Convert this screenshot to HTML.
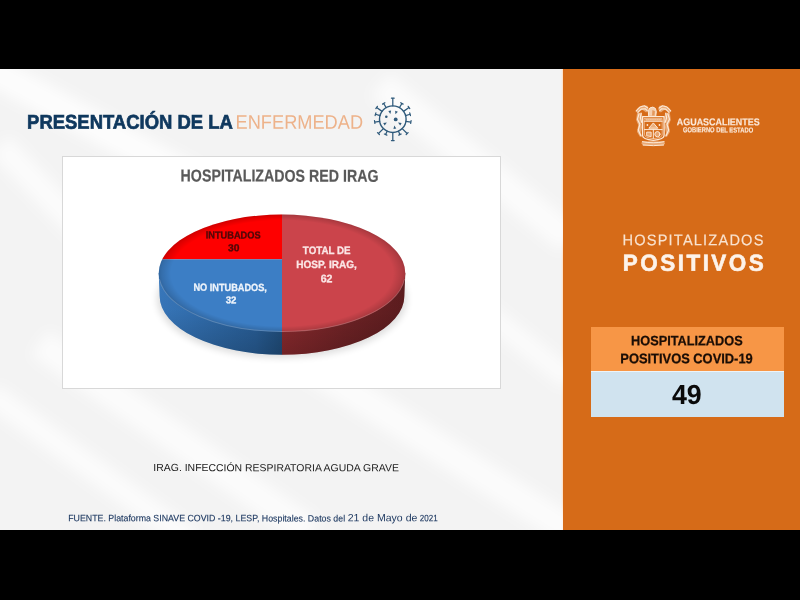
<!DOCTYPE html>
<html lang="es">
<head>
<meta charset="utf-8">
<title>Presentación de la enfermedad - Hospitalizados positivos</title>
<style>
html,body{margin:0;padding:0;background:#000;}
body{width:800px;height:600px;position:relative;overflow:hidden;font-family:"Liberation Sans",sans-serif;}
#slide{position:absolute;left:0;top:69px;width:800px;height:461px;background:#f3f3f3;overflow:hidden;}
#bg{position:absolute;left:0;top:0;width:563px;height:461px;background:#f3f3f3;}
#panel{position:absolute;left:562.7px;top:0;width:237.3px;height:461px;background:#d66b18;box-shadow:-1px 0 1px rgba(255,225,200,.9);}
#chart{position:absolute;left:62.2px;top:155.8px;width:437.3px;height:231.6px;background:#fff;border:1px solid #d8d8d8;}
.t{position:absolute;left:0;top:0;white-space:pre;transform-origin:0 0;margin:0;padding:0;}
#abs{position:absolute;left:0;top:0;width:800px;height:600px;}
#th{position:absolute;left:590.5px;top:327.3px;width:193px;height:43.4px;background:#f79646;}
#td{position:absolute;left:590.5px;top:370.7px;width:193px;height:46.6px;background:#d0e3ef;box-shadow:inset 0 1px 0 rgba(255,255,255,.6);}
svg{position:absolute;left:0;top:0;}
</style>
</head>
<body>
<div id="slide">
  <div id="bg"></div>
  <div id="panel"></div>
</div>
<div id="abs">
  <svg width="563" height="600" viewBox="0 0 563 600" style="clip-path:inset(69px 0 70px 0)"><defs><filter id="bgbl" x="-10%" y="-10%" width="120%" height="120%"><feGaussianBlur stdDeviation="7"/></filter></defs>
<g filter="url(#bgbl)" stroke="#fff" fill="none" stroke-linecap="butt">
<line x1="-20" y1="64" x2="300" y2="237" stroke-width="30" stroke-opacity="0.8"/>
<line x1="0" y1="145" x2="140" y2="292" stroke-width="26" stroke-opacity="0.7"/>
<line x1="40" y1="343" x2="310" y2="532" stroke-width="30" stroke-opacity="0.7"/>
<line x1="290" y1="353" x2="570" y2="531" stroke-width="30" stroke-opacity="0.7"/>
<line x1="-10" y1="394" x2="190" y2="540" stroke-width="24" stroke-opacity="0.7"/>
<line x1="380" y1="85" x2="570" y2="240" stroke-width="30" stroke-opacity="0.7"/>
<line x1="470" y1="300" x2="570" y2="380" stroke-width="22" stroke-opacity="0.65"/>
</g>
  </svg>
  <div id="chart"></div>
  <div id="th"></div>
  <div id="td"></div>
  <svg width="800" height="600" viewBox="0 0 800 600">
    <defs>
      <clipPath id="topc"><ellipse cx="282" cy="273.25" rx="123.3" ry="58.75"/></clipPath>
      <clipPath id="sidec"><path d="M158.7,273.25 L159.6,296.05 A122.4,58.75 0 0 0 404.4,296.05 L405.3,273.25 Z"/></clipPath>
      <linearGradient id="gb" x1="0" y1="0" x2="1" y2="0">
        <stop offset="0" stop-color="#3a7abf"/><stop offset=".3" stop-color="#3371b3"/><stop offset=".8" stop-color="#29609a"/><stop offset="1" stop-color="#21507f"/>
      </linearGradient>
      <linearGradient id="gr" x1="0" y1="0" x2="1" y2="0">
        <stop offset="0" stop-color="#8e2b2f"/><stop offset=".5" stop-color="#712326"/><stop offset="1" stop-color="#5a1c1e"/>
      </linearGradient>
      <linearGradient id="gv" x1="0" y1="0" x2="0" y2="1">
        <stop offset="0" stop-color="#000" stop-opacity="0"/><stop offset=".45" stop-color="#000" stop-opacity=".03"/><stop offset="1" stop-color="#000" stop-opacity=".2"/>
      </linearGradient>
      <radialGradient id="bev" cx=".5" cy=".5" r=".5">
        <stop offset="0" stop-color="#000" stop-opacity="0"/><stop offset=".9" stop-color="#000" stop-opacity="0"/><stop offset=".975" stop-color="#000" stop-opacity=".13"/><stop offset="1" stop-color="#000" stop-opacity=".2"/>
      </radialGradient>
      <filter id="bl" x="-20%" y="-20%" width="140%" height="140%"><feGaussianBlur stdDeviation="3.5"/></filter>
    </defs>
    <!-- shadow -->
    <ellipse cx="282" cy="299" rx="125" ry="59" fill="#000" opacity=".13" filter="url(#bl)"/>
    <!-- side -->
    <g clip-path="url(#sidec)">
      <rect x="150" y="260" width="132" height="110" fill="url(#gb)"/>
      <rect x="282" y="260" width="130" height="110" fill="url(#gr)"/>
      <rect x="150" y="273" width="262" height="82" fill="url(#gv)"/>
    </g>
    <!-- top -->
    <g clip-path="url(#topc)">
      <rect x="150" y="200" width="132" height="59.3" fill="#fe0000"/>
      <rect x="150" y="259.3" width="132" height="90" fill="#3c7ec5"/>
      <rect x="282" y="200" width="130" height="150" fill="#cb444b"/>
    </g>
    <ellipse cx="282" cy="273.25" rx="123.3" ry="58.75" fill="url(#bev)"/>
    <path d="M159.4,279 A123.3,58.75 0 0 0 404.6,279" fill="none" stroke="#fff" stroke-opacity=".2" stroke-width="1.1"/>
    <g fill="none" stroke="#2f5a7b" stroke-width="1.25" stroke-linecap="round">
<circle cx="392.8" cy="119.2" r="13.3" stroke-width="1.4"/>
<path d="M392.80,105.90L392.80,98.20M391.45,98.20L394.15,98.20M399.45,107.68L401.90,103.44M400.73,102.76L403.07,104.11M403.56,111.38L408.98,107.44M408.19,106.35L409.77,108.54M405.58,115.53L410.10,114.24M409.73,112.94L410.47,115.54M405.94,121.28L410.87,122.06M411.09,120.73L410.66,123.40M402.20,128.60L407.15,133.55M408.11,132.60L406.20,134.51M398.42,131.25L399.98,134.61M401.21,134.04L398.76,135.18M392.80,132.50L392.80,140.50M394.15,140.50L391.45,140.50M386.15,107.68L383.70,103.44M382.53,104.11L384.87,102.76M382.04,111.38L376.62,107.44M375.83,108.54L377.41,106.35M380.02,115.53L375.50,114.24M375.13,115.54L375.87,112.94M379.66,121.28L374.73,122.06M374.94,123.40L374.51,120.73M383.40,128.60L378.45,133.55M379.40,134.51L377.49,132.60M387.18,131.25L385.62,134.61M386.84,135.18L384.39,134.04"/>
</g>
<g fill="#2f5a7b">
<circle cx="386.3" cy="116.8" r="1.3"/>
<circle cx="395.7" cy="119.4" r="1.9"/>
<path d="M390.32,114.02L391.15,110.42L388.32,110.92Z"/>
<path d="M395.38,114.33L397.90,111.63L395.19,110.64Z"/>
<path d="M386.89,122.50L383.23,122.95L384.67,125.45Z"/>
<path d="M397.99,122.50L400.21,125.45L401.65,122.95Z"/>
<path d="M394.28,125.52L393.45,129.12L396.29,128.62Z"/>
</g>
    <g fill="none" stroke="#fde9d6" stroke-width="1" stroke-linecap="round" stroke-linejoin="round">
<g fill="#fde9d6" stroke="none" opacity=".5">
<path d="M635.75,111.25 L637.83,107.92 L642.00,105.42 L647.42,105.83 L648.67,109.17 L646.17,112.50 L642.83,110.00 L639.50,110.42 L637.00,112.50Z"/>
<path d="M671.17,111.25 L669.08,107.92 L664.92,105.42 L659.50,105.83 L658.25,109.17 L660.75,112.50 L664.08,110.00 L667.42,110.42 L669.92,112.50Z"/>
<path d="M637.00,113.33 L641.58,112.50 L642.42,116.67 L641.17,121.67 L642.00,127.50 L640.75,133.33 L642.42,136.67 L639.92,136.67 L637.00,131.67 L638.25,125.00 L636.17,120.00Z"/>
<path d="M669.92,113.33 L665.33,112.50 L664.50,116.67 L665.75,121.67 L664.92,127.50 L666.17,133.33 L664.50,136.67 L667.00,136.67 L669.92,131.67 L668.67,125.00 L670.75,120.00Z"/>
<path d="M642.00,141.25 L664.08,141.25 L664.92,143.33 L663.67,145.42 L642.83,145.42 L641.58,143.33Z"/>
</g>
<path d="M636.17,110.83 L639.92,107.08 L644.50,105.83 L647.83,107.92M637.83,112.50 L641.17,109.17 L645.33,108.75 L647.42,110.83M670.75,110.83 L667.00,107.08 L662.42,105.83 L659.08,107.92M669.08,112.50 L665.75,109.17 L661.58,108.75 L659.50,110.83" stroke-width="1.1"/>
<path d="M639.08,113.75 L637.42,119.17 L639.92,124.17 L638.25,130.00 L640.75,135.42M641.17,113.33 L640.33,117.92 L641.83,122.50M667.83,113.75 L669.50,119.17 L667.00,124.17 L668.67,130.00 L666.17,135.42M665.75,113.33 L666.58,117.92 L665.08,122.50" stroke-width="1.2"/>
<path d="M648.67,115.83 L648.25,110.83 L649.92,107.92 L652.83,107.08 L655.33,108.33 L656.33,111.67 L655.75,115.83Z" fill="#fde9d6" fill-opacity=".8" stroke-width="1"/>
<path d="M652.42,110.00 L654.92,111.25 L654.50,115.42 L652.00,115.42Z" fill="#d66b18" fill-opacity=".55" stroke="none"/>
<path d="M642.58,116.67 L664.08,116.67 L664.08,135.42 Q664.08,139.17 653.33,140.33 Q642.58,139.17 642.58,135.42 Z" stroke-width="1.3"/>
<path d="M644.50,118.50 L662.17,118.50 L662.17,135.00 Q662.17,137.67 653.33,138.67 Q644.50,137.67 644.50,135.00 Z" stroke-width=".7" opacity=".8"/>
<path d="M644.50,121.25 L662.17,121.25M644.50,129.58 L662.17,129.58M653.33,129.58 L653.33,138.33" stroke-width="1"/>
<path d="M645.75,119.83 L661.17,119.83" stroke-width="1.2" stroke-dasharray="1.3 .9" opacity=".9"/>
<path d="M649.08,127.92 L653.33,122.92 L657.58,127.92Z" fill="#fde9d6" fill-opacity=".55" stroke-width="1"/>
<circle cx="647.42" cy="125.00" r=".9" fill="#fde9d6" stroke="none"/><circle cx="659.50" cy="125.00" r=".9" fill="#fde9d6" stroke="none"/>
<circle cx="657.42" cy="134.17" r="2.6" fill="#fde9d6" fill-opacity=".45" stroke-width="1"/>
<path d="M647.00,132.08 L651.17,132.08 L651.17,136.67 L647.00,135.83Z" fill="#fde9d6" fill-opacity=".5" stroke-width=".9"/>
<path d="M642.42,141.67 L647.83,142.50 L653.33,142.75 L658.83,142.50 L664.08,141.67M643.25,145.00 L653.33,145.67 L663.50,145.00" stroke-width="1"/>
</g>
  </svg>
<div class="t" id="t1" style="font-size:20.00px;line-height:20.00px;font-weight:700;color:#0f385e;-webkit-text-stroke:0.7px #0f385e;transform:translate(27.09px,111.74px) skewY(0.04deg) scaleX(0.9226);">PRESENTACIÓN DE LA</div>
<div class="t" id="t2" style="font-size:19.71px;line-height:19.71px;font-weight:400;color:#edb28a;transform:translate(235.56px,112.79px) skewY(0.04deg) scaleX(0.9252);">ENFERMEDAD</div>
<div class="t" id="c0" style="font-size:17.25px;line-height:17.25px;font-weight:700;color:#595959;-webkit-text-stroke:0.2px #595959;transform:translate(180.61px,167.56px) skewY(0.04deg) scaleX(0.8237);">HOSPITALIZADOS RED IRAG</div>
<div class="t" id="c1" style="font-size:10.14px;line-height:10.14px;font-weight:700;color:#4d0808;-webkit-text-stroke:0.3px #4d0808;transform:translate(205.64px,230.37px) skewY(0.04deg) scaleX(0.9140);">INTUBADOS</div>
<div class="t" id="c2" style="font-size:10.14px;line-height:10.14px;font-weight:700;color:#4d0808;-webkit-text-stroke:0.3px #4d0808;transform:translate(227.93px,243.23px) skewY(0.04deg) scaleX(1.0126);">30</div>
<div class="t" id="c3" style="font-size:10.43px;line-height:10.43px;font-weight:700;color:#eef4fb;-webkit-text-stroke:0.3px #eef4fb;transform:translate(193.38px,282.87px) skewY(0.04deg) scaleX(0.8818);">NO INTUBADOS,</div>
<div class="t" id="c4" style="font-size:9.86px;line-height:9.86px;font-weight:700;color:#eef4fb;-webkit-text-stroke:0.3px #eef4fb;transform:translate(225.76px,295.14px) skewY(0.04deg) scaleX(0.9784);">32</div>
<div class="t" id="c5" style="font-size:10.87px;line-height:10.87px;font-weight:700;color:#fbe6e6;-webkit-text-stroke:0.3px #fbe6e6;transform:translate(302.87px,244.90px) skewY(0.04deg) scaleX(0.8992);">TOTAL DE</div>
<div class="t" id="c6" style="font-size:10.58px;line-height:10.58px;font-weight:700;color:#fbe6e6;-webkit-text-stroke:0.3px #fbe6e6;transform:translate(296.19px,258.95px) skewY(0.04deg) scaleX(0.9501);">HOSP. IRAG,</div>
<div class="t" id="c7" style="font-size:10.87px;line-height:10.87px;font-weight:700;color:#fbe6e6;-webkit-text-stroke:0.3px #fbe6e6;transform:translate(320.65px,273.23px) skewY(0.04deg) scaleX(0.9786);">62</div>
<div class="t" id="n1" style="font-size:10.29px;line-height:10.29px;font-weight:400;color:#1a1a1a;transform:translate(153.37px,463.09px) skewY(0.04deg) scaleX(1.0158);">IRAG. INFECCIÓN RESPIRATORIA AGUDA GRAVE</div>
<div class="t" id="f1" style="font-size:9.28px;line-height:9.28px;font-weight:400;color:#1f3a62;-webkit-text-stroke:0.12px #1f3a62;transform:translate(68.14px,514.24px) skewY(0.04deg) scaleX(0.9514);">FUENTE. Plataforma SINAVE COVID -19, LESP, Hospitales. Datos del</div>
<div class="t" id="f2" style="font-size:10.43px;line-height:10.43px;font-weight:400;color:#1f3a62;transform:translate(347.70px,513.28px) skewY(0.04deg) scaleX(1.0102);">21 de Mayo de</div>
<div class="t" id="f3" style="font-size:9.28px;line-height:9.28px;font-weight:400;color:#1f3a62;-webkit-text-stroke:0.12px #1f3a62;transform:translate(419.86px,514.31px) skewY(0.04deg) scaleX(0.8631);">2021</div>
<div class="t" id="r1" style="font-size:15.36px;line-height:15.36px;font-weight:400;color:#f9e3d0;-webkit-text-stroke:0.15px #f9e3d0;letter-spacing:1.255px;transform:translate(622.49px,232.26px) skewY(0.04deg) scaleX(0.95);">HOSPITALIZADOS</div>
<div class="t" id="r2" style="font-size:23.19px;line-height:23.19px;font-weight:700;color:#fdf3ea;-webkit-text-stroke:0.6px #fdf3ea;letter-spacing:2.539px;transform:translate(622.86px,251.73px) skewY(0.04deg) scaleX(0.97);">POSITIVOS</div>
<div class="t" id="b1" style="font-size:13.62px;line-height:13.62px;font-weight:700;color:#1a0d05;-webkit-text-stroke:0.25px #1a0d05;transform:translate(631.09px,334.17px) skewY(0.04deg) scaleX(0.9359);">HOSPITALIZADOS</div>
<div class="t" id="b2" style="font-size:13.91px;line-height:13.91px;font-weight:700;color:#1a0d05;-webkit-text-stroke:0.25px #1a0d05;transform:translate(620.30px,352.16px) skewY(0.04deg) scaleX(0.9264);">POSITIVOS COVID-19</div>
<div class="t" id="b3" style="font-size:27.54px;line-height:27.54px;font-weight:700;color:#0a0a0a;transform:translate(671.89px,381.11px) skewY(0.04deg) scaleX(0.9742);">49</div>
<div class="t" id="l1" style="font-size:9.86px;line-height:9.86px;font-weight:700;color:#fbe9da;-webkit-text-stroke:0.15px #fbe9da;transform:translate(676.87px,117.30px) skewY(0.04deg) scaleX(0.9057);">AGUASCALIENTES</div>
<div class="t" id="l2" style="font-size:7.25px;line-height:7.25px;font-weight:700;color:#fbe9da;-webkit-text-stroke:0.15px #fbe9da;transform:translate(682.94px,126.35px) skewY(0.04deg) scaleX(0.8021);">GOBIERNO DEL ESTADO</div>
</div>
</body>
</html>
